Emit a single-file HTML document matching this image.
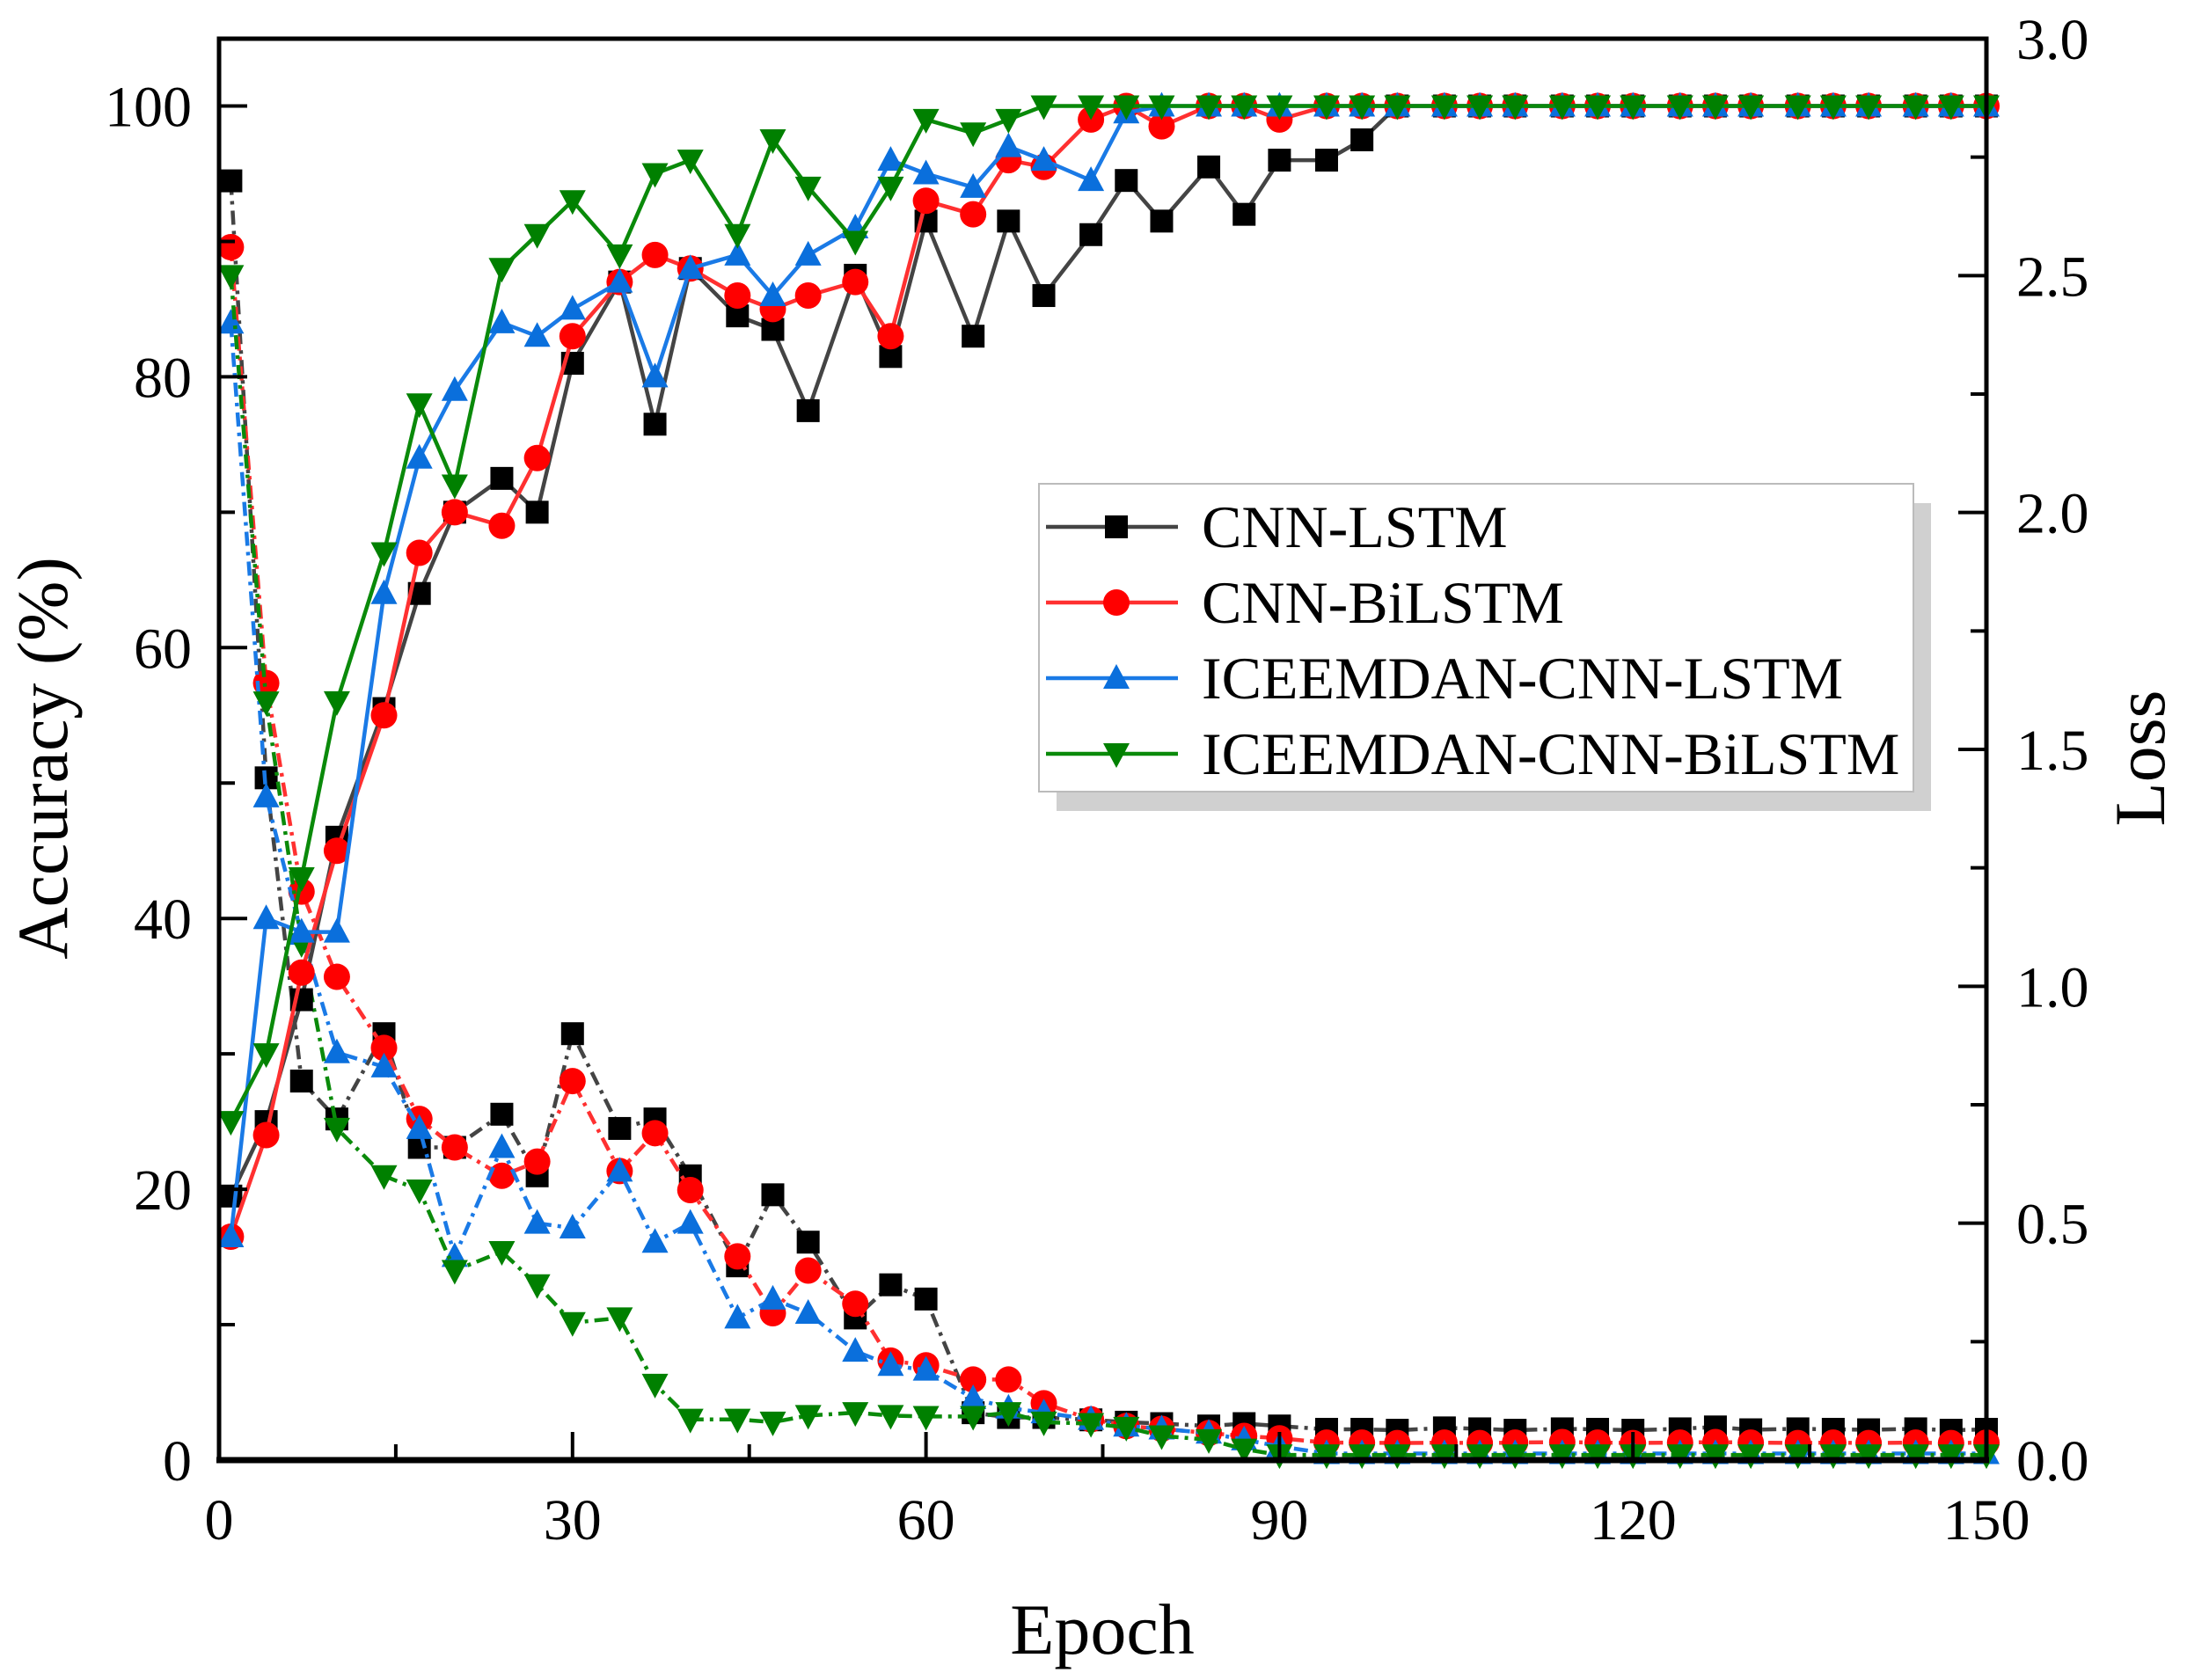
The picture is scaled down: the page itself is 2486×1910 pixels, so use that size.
<!DOCTYPE html>
<html><head><meta charset="utf-8"><style>
html,body{margin:0;padding:0;background:#fff}
svg{display:block}
text{font-family:"Liberation Serif",serif;fill:#000}
</style></head><body>
<svg id="chart" width="2486" height="1910" viewBox="0 0 2486 1910">
<g id="grid"></g>
<g id="series"></g>
<g id="axes"></g>
<g id="legend"></g>
</svg>
<script>
const epochs=[1,4,7,10,14,17,20,24,27,30,34,37,40,44,47,50,54,57,60,64,67,70,74,77,80,84,87,90,94,97,100,104,107,110,114,117,120,124,127,130,134,137,140,144,147,150];
const seriesNames=["CNN-LSTM","CNN-BiLSTM","ICEEMDAN-CNN-LSTM","ICEEMDAN-CNN-BiLSTM"];
const accCnnLstm=[19.5,25,34,46,55.5,64,70,72.5,70,81,87,76.5,88,84.5,83.5,77.5,87.5,81.5,91.5,83,91.5,86,90.5,94.5,91.5,95.5,92,96,96,97.5,100,100,100,100,100,100,100,100,100,100,100,100,100,100,100,100];
const accCnnBiLstm=[16.5,24,36,45,55,67,70,69,74,83,87,89,88,86,85,86,87,83,93,92,96,95.5,99,100,98.5,100,100,99,100,100,100,100,100,100,100,100,100,100,100,100,100,100,100,100,100,100];
const accIceLstm=[16.5,40,39,39,64,74,79,84,83,85,87,80,88,89,86,89,91,96,95,94,97,96,94.5,99.5,100,100,100,100,100,100,100,100,100,100,100,100,100,100,100,100,100,100,100,100,100,100];
const accIceBiLstm=[25,30,43,56,67,78,72,88,90.5,93,89,95,96,90.5,97.5,94,90,94,99,98,99,100,100,100,100,100,100,100,100,100,100,100,100,100,100,100,100,100,100,100,100,100,100,100,100,100];
const lossCnnLstm=[2.70,1.44,0.80,0.72,0.90,0.66,0.66,0.73,0.60,0.90,0.70,0.72,0.60,0.41,0.56,0.46,0.30,0.37,0.34,0.10,0.09,0.09,0.085,0.08,0.077,0.072,0.077,0.072,0.065,0.065,0.063,0.068,0.066,0.063,0.066,0.065,0.063,0.066,0.07,0.064,0.066,0.065,0.064,0.066,0.063,0.065];
const lossCnnBiLstm=[2.56,1.64,1.20,1.02,0.87,0.72,0.66,0.60,0.63,0.80,0.61,0.69,0.57,0.43,0.31,0.40,0.33,0.21,0.20,0.17,0.17,0.12,0.086,0.072,0.066,0.057,0.051,0.046,0.037,0.037,0.036,0.037,0.036,0.037,0.038,0.037,0.036,0.037,0.038,0.037,0.036,0.037,0.036,0.037,0.036,0.037];
const lossIceLstm=[2.40,1.40,1.11,0.86,0.83,0.70,0.43,0.66,0.50,0.49,0.61,0.46,0.50,0.30,0.34,0.31,0.23,0.20,0.19,0.13,0.11,0.10,0.086,0.072,0.066,0.057,0.043,0.029,0.014,0.014,0.014,0.014,0.014,0.014,0.014,0.014,0.014,0.014,0.014,0.014,0.014,0.014,0.014,0.014,0.014,0.014];
const lossIceBiLstm=[2.50,1.60,1.09,0.70,0.60,0.57,0.40,0.44,0.37,0.29,0.30,0.16,0.086,0.086,0.08,0.094,0.10,0.094,0.092,0.092,0.10,0.08,0.077,0.069,0.051,0.043,0.023,0.011,0.011,0.011,0.011,0.011,0.011,0.011,0.011,0.011,0.011,0.011,0.011,0.011,0.011,0.011,0.011,0.011,0.011,0.011];
const xTicks=[0,30,60,90,120,150];
const accTicks=[0,20,40,60,80,100];
const lossTicks=["0.0","0.5","1.0","1.5","2.0","2.5","3.0"];

const NS="http://www.w3.org/2000/svg";
const L=249,R=2258,T=44,B=1660;
const accMax=(B-T)/((1660-120.5)/100);
const xS=v=>L+(v/150)*(R-L);
const yA=v=>B-(v/accMax)*(B-T);
const yL=v=>B-(v/3)*(B-T);
function mk(tag,attrs,parent){const e=document.createElementNS(NS,tag);for(const k in attrs)e.setAttribute(k,attrs[k]);parent.appendChild(e);return e;}
const gS=document.getElementById('series'),gA=document.getElementById('axes'),gLg=document.getElementById('legend');
const styles=[{c:"#000",lc:"#444",m:"square"},{c:"#ff0000",lc:"#ff3030",m:"circle"},{c:"#0a6fdc",lc:"#1a7ae6",m:"up"},{c:"#008000",lc:"#0a8a0a",m:"down"}];
function marker(type,x,y,color,parent){
  let e;
  if(type==="square"){e=mk('rect',{x:x-13,y:y-13,width:26,height:26,fill:color},parent);}
  else if(type==="circle"){e=mk('circle',{cx:x,cy:y,r:15,fill:color},parent);}
  else if(type==="up"){e=mk('polygon',{points:`${x},${y-16} ${x-15},${y+12} ${x+15},${y+12}`,fill:color},parent);}
  else {e=mk('polygon',{points:`${x},${y+16} ${x-15},${y-12} ${x+15},${y-12}`,fill:color},parent);}
  return e;
}
const accSets=[accCnnLstm,accCnnBiLstm,accIceLstm,accIceBiLstm];
const lossSets=[lossCnnLstm,lossCnnBiLstm,lossIceLstm,lossIceBiLstm];
[[lossSets,yL,true],[accSets,yA,false]].forEach(([sets,yf,dashed])=>{
  sets.forEach((arr,i)=>{
    const st=styles[i];
    const d=arr.map((v,j)=>(j?'L':'M')+xS(epochs[j]).toFixed(1)+','+yf(v).toFixed(1)).join(' ');
    const p=mk('path',{d:d,fill:'none',stroke:st.lc,'stroke-width':4.5,'stroke-linejoin':'round'},gS);
    if(dashed)p.setAttribute('stroke-dasharray','16,7,4,7');
    
    
    arr.forEach((v,j)=>{
      const m=marker(st.m,xS(epochs[j]),yf(v),st.c,gS);
      
      
    });
  });
});
const fr=mk('rect',{x:L,y:T,width:R-L,height:B-T,fill:'none',stroke:'#000','stroke-width':5},gA);


mk('line',{x1:L-3,y1:B,x2:R+3,y2:B,stroke:'#000','stroke-width':7},gA);
for(let v=0;v<=150;v+=15){const maj=v%30===0;mk('line',{x1:xS(v),y1:B,x2:xS(v),y2:B-(maj?32:18),stroke:'#000','stroke-width':4},gA);}
xTicks.forEach(v=>{const t=mk('text',{x:xS(v),y:1750,'font-size':66,'text-anchor':'middle'},gA);t.textContent=v;

});
for(let v=0;v<=100;v+=10){const maj=v%20===0;mk('line',{x1:L,y1:yA(v),x2:L+(maj?32:18),y2:yA(v),stroke:'#000','stroke-width':4},gA);}
accTicks.forEach(v=>{const t=mk('text',{x:218,y:yA(v)+23,'font-size':66,'text-anchor':'end'},gA);t.textContent=v;

});
for(let k=0;k<=12;k++){const v=k*0.25;const maj=k%2===0;mk('line',{x1:R,y1:yL(v),x2:R-(maj?32:18),y2:yL(v),stroke:'#000','stroke-width':4},gA);}
lossTicks.forEach(s=>{const t=mk('text',{x:2292,y:yL(parseFloat(s))+23,'font-size':66,'text-anchor':'start'},gA);t.textContent=s;

});
let t=mk('text',{x:0,y:0,'font-size':82,'text-anchor':'middle',transform:`translate(76,${(T+B)/2+10}) rotate(-90)`},gA);t.textContent="Accuracy (%)";


t=mk('text',{x:0,y:0,'font-size':82,'text-anchor':'middle',transform:`translate(2460,${(T+B)/2+10}) rotate(-90)`},gA);t.textContent="Loss";


t=mk('text',{x:1253,y:1880,'font-size':82,'text-anchor':'middle'},gA);t.textContent="Epoch";


const lx=1181,ly=550,lw=994,lh=350;
const sh=mk('rect',{x:lx+20,y:ly+22,width:lw,height:lh,fill:'#d0d0d0'},gLg);


const bx=mk('rect',{x:lx,y:ly,width:lw,height:lh,fill:'#fff',stroke:'#bbb','stroke-width':2},gLg);


seriesNames.forEach((n,i)=>{
  const y=ly+49+i*86;const st=styles[i];
  const g=mk('g',{},gLg);
  
  
  mk('line',{x1:lx+8,y1:y,x2:lx+158,y2:y,stroke:st.lc,'stroke-width':4.5},g);
  marker(st.m,lx+88,y,st.c,g);
  const tx=mk('text',{x:lx+185,y:y+23,'font-size':68},g);tx.textContent=n;
});
</script>
</body></html>
